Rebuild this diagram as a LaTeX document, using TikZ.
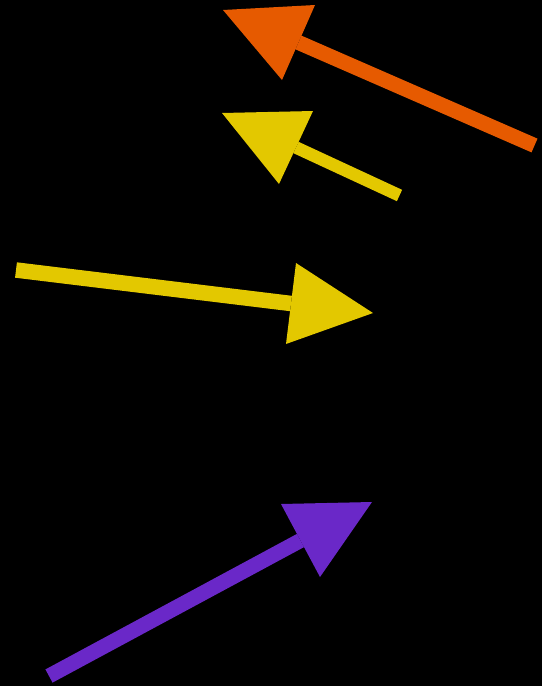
\documentclass[tikz,border=0pt]{standalone}
\usetikzlibrary{calc}
\definecolor{arrorange}{RGB}{230,90,0}
\definecolor{arryellow}{RGB}{227,200,0}
\definecolor{arrpurple}{RGB}{106,40,200}
\tikzset{
  shaft/.style={line cap=butt, line width=#1},
  headtri/.style={fill=#1, draw=none}
}
\begin{document}
\begin{tikzpicture}[x=1pt,y=-1pt]
\fill[black] (0,0) rectangle (542,686);
\useasboundingbox (0,0) rectangle (542,686);
% orange arrow
\coordinate (o1) at (534.5,145.5);
\coordinate (otip) at (223,10);
\coordinate (oa) at (315,5);
\coordinate (ob) at (282,80);
\draw[arrorange, shaft=15pt] (o1) -- ($(oa)!0.5!(ob)$);
\fill[headtri=arrorange] (otip) -- (oa) -- (ob) -- cycle;
% small yellow arrow
\coordinate (y1) at (399.5,195.5);
\coordinate (ytip) at (222,113);
\coordinate (ya) at (313,111);
\coordinate (yb) at (279,184);
\draw[arryellow, shaft=12.5pt] (y1) -- ($(ya)!0.5!(yb)$);
\fill[headtri=arryellow] (ytip) -- (ya) -- (yb) -- cycle;
% long yellow arrow
\coordinate (z1) at (16,270);
\coordinate (ztip) at (373,313);
\coordinate (za) at (296,263);
\coordinate (zb) at (286,344);
\draw[arryellow, shaft=15.5pt] (z1) -- ($(za)!0.5!(zb)$);
\fill[headtri=arryellow] (ztip) -- (za) -- (zb) -- cycle;
% purple arrow
\coordinate (p1) at (49,676);
\coordinate (ptip) at (372,502);
\coordinate (pa) at (281,504);
\coordinate (pb) at (320,577);
\draw[arrpurple, shaft=15pt] (p1) -- ($(pa)!0.5!(pb)$);
\fill[headtri=arrpurple] (ptip) -- (pa) -- (pb) -- cycle;
\end{tikzpicture}
\end{document}
